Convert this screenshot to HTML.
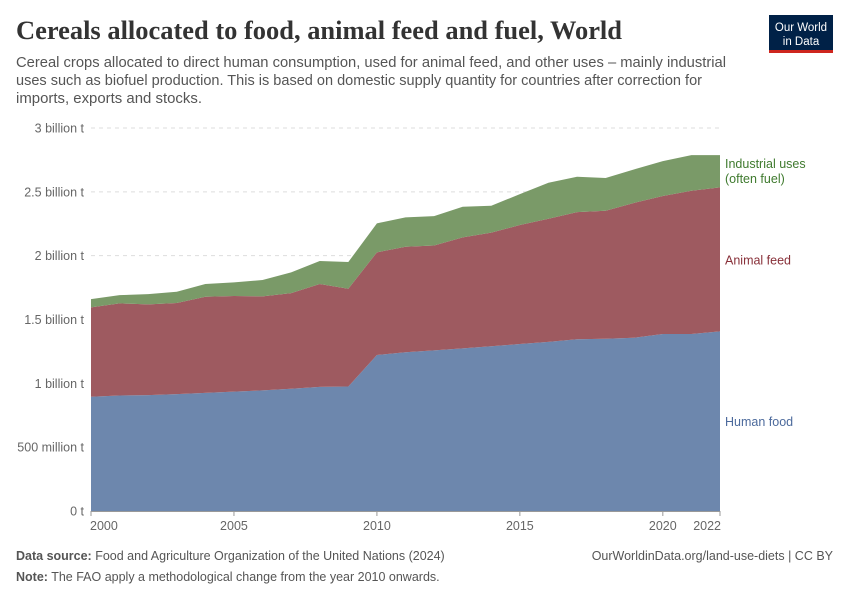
<!DOCTYPE html>
<html><head><meta charset="utf-8"><style>
html,body{margin:0;padding:0;background:#fff;}
svg{display:block;font-family:"Liberation Sans",sans-serif;}
</style></head><body>
<svg id="chart" width="850" height="600" viewBox="0 0 850 600">
<text x="16" y="39" font-family="Liberation Serif,serif" font-weight="bold" font-size="26" fill="#333" textLength="606" lengthAdjust="spacingAndGlyphs">Cereals allocated to food, animal feed and fuel, World</text>
<g font-size="14.5" fill="#555">
<text x="16" y="67" textLength="710" lengthAdjust="spacingAndGlyphs">Cereal crops allocated to direct human consumption, used for animal feed, and other uses – mainly industrial</text>
<text x="16" y="85" textLength="686" lengthAdjust="spacingAndGlyphs">uses such as biofuel production. This is based on domestic supply quantity for countries after correction for</text>
<text x="16" y="103" textLength="186" lengthAdjust="spacingAndGlyphs">imports, exports and stocks.</text>
</g>
<g>
<rect x="769" y="15" width="64" height="35" fill="#002147"/>
<rect x="769" y="50" width="64" height="3" fill="#ce261e"/>
<text x="801" y="31" text-anchor="middle" font-size="11.5" fill="#fff">Our World</text>
<text x="801" y="45" text-anchor="middle" font-size="11.5" fill="#fff">in Data</text>
</g>
<g id="grid"></g>
<g id="areas"></g>
<g id="xaxis"></g>
<g id="labels"></g>
<text x="16" y="560" font-size="12.5" fill="#555"><tspan font-weight="bold">Data source:</tspan> Food and Agriculture Organization of the United Nations (2024)</text>
<text x="833" y="560" text-anchor="end" font-size="12.5" fill="#555">OurWorldinData.org/land-use-diets | CC BY</text>
<text x="16" y="581" font-size="12.5" fill="#555"><tspan font-weight="bold">Note:</tspan> The FAO apply a methodological change from the year 2010 onwards.</text>
</svg>
<script>
const years = [2000,2001,2002,2003,2004,2005,2006,2007,2008,2009,2010,2011,2012,2013,2014,2015,2016,2017,2018,2019,2020,2021,2022];
const food = [0.895,0.905,0.908,0.915,0.925,0.935,0.945,0.958,0.972,0.975,1.222,1.243,1.258,1.274,1.290,1.308,1.325,1.345,1.349,1.357,1.386,1.386,1.407];
const feed = [0.700,0.721,0.710,0.714,0.753,0.749,0.736,0.749,0.806,0.766,0.804,0.827,0.822,0.869,0.890,0.932,0.964,0.996,1.003,1.057,1.081,1.122,1.128];
const industrial = [0.065,0.065,0.081,0.088,0.100,0.107,0.128,0.162,0.180,0.209,0.227,0.230,0.230,0.240,0.211,0.242,0.282,0.277,0.256,0.262,0.274,0.280,0.253];
const yTicks = [0,0.5,1,1.5,2,2.5,3];
const yTickLabels = ["0 t","500 million t","1 billion t","1.5 billion t","2 billion t","2.5 billion t","3 billion t"];
const xTicks = [2000,2005,2010,2015,2020,2022];

const NS="http://www.w3.org/2000/svg";
const X0=91,X1=720,Y0=511,Y1=128;
const xs=y=>X0+(y-2000)/(2022-2000)*(X1-X0);
const ys=v=>Y0-v/3*(Y0-Y1);
function mk(tag,attrs,parent){const e=document.createElementNS(NS,tag);for(const k in attrs)e.setAttribute(k,attrs[k]);parent.appendChild(e);return e;}

const grid=document.getElementById('grid');
yTicks.forEach((t,i)=>{
  if(t>0){const l=mk('line',{x1:X0,x2:X1,y1:ys(t),y2:ys(t),stroke:'#ddd','stroke-dasharray':'4,4'},grid);
  
  }
  const tx=mk('text',{x:84,y:ys(t)+4.5,'text-anchor':'end','font-size':'12.5',fill:'#666'},grid);
  tx.textContent=yTickLabels[i];
  
  
});

const areas=document.getElementById('areas');
const series=[{name:'human-food',vals:food,color:'#6d87ad'},{name:'animal-feed',vals:feed,color:'#9e5a60'},{name:'industrial-uses',vals:industrial,color:'#7a9a68'}];
let base=years.map(()=>0);
series.forEach(s=>{
  const top=base.map((b,i)=>b+s.vals[i]);
  let d='M'+years.map((y,i)=>xs(y)+','+ys(top[i])).join('L');
  for(let i=years.length-1;i>=0;i--)d+='L'+xs(years[i])+','+ys(base[i]);
  d+='Z';
  const p=mk('path',{d:d,fill:s.color},areas);
  
  
  base=top;
});

const xa=document.getElementById('xaxis');
const ax=mk('line',{x1:X0,x2:X1,y1:Y0+0.5,y2:Y0+0.5,stroke:'#999'},xa);


xTicks.forEach(t=>{
  const tk=mk('line',{x1:xs(t),x2:xs(t),y1:Y0,y2:Y0+5,stroke:'#999'},xa);
  
  
  let x=xs(t),anchor='middle';
  if(t===2000){x=X0-1;anchor='start';}
  if(t===2022){x=X1+1;anchor='end';}
  const tx=mk('text',{x:x,y:Y0+19,'text-anchor':anchor,'font-size':'12.5',fill:'#666'},xa);
  tx.textContent=t;
  
  
});

const lab=document.getElementById('labels');
const n=years.length-1;
const lf=mk('text',{x:725,y:ys(food[n]/2)+5,'font-size':'12.5',fill:'#4c6a9c'},lab);
lf.textContent='Human food';


const la=mk('text',{x:725,y:ys(food[n]+feed[n]/2)+5,'font-size':'12.5',fill:'#883039'},lab);
la.textContent='Animal feed';


const li=mk('text',{x:725,y:168,'font-size':'12.5',fill:'#3f7a2e'},lab);


const t1=mk('tspan',{x:725,dy:0},li);t1.textContent='Industrial uses';
const t2=mk('tspan',{x:725,dy:15},li);t2.textContent='(often fuel)';
</script>
</body></html>
